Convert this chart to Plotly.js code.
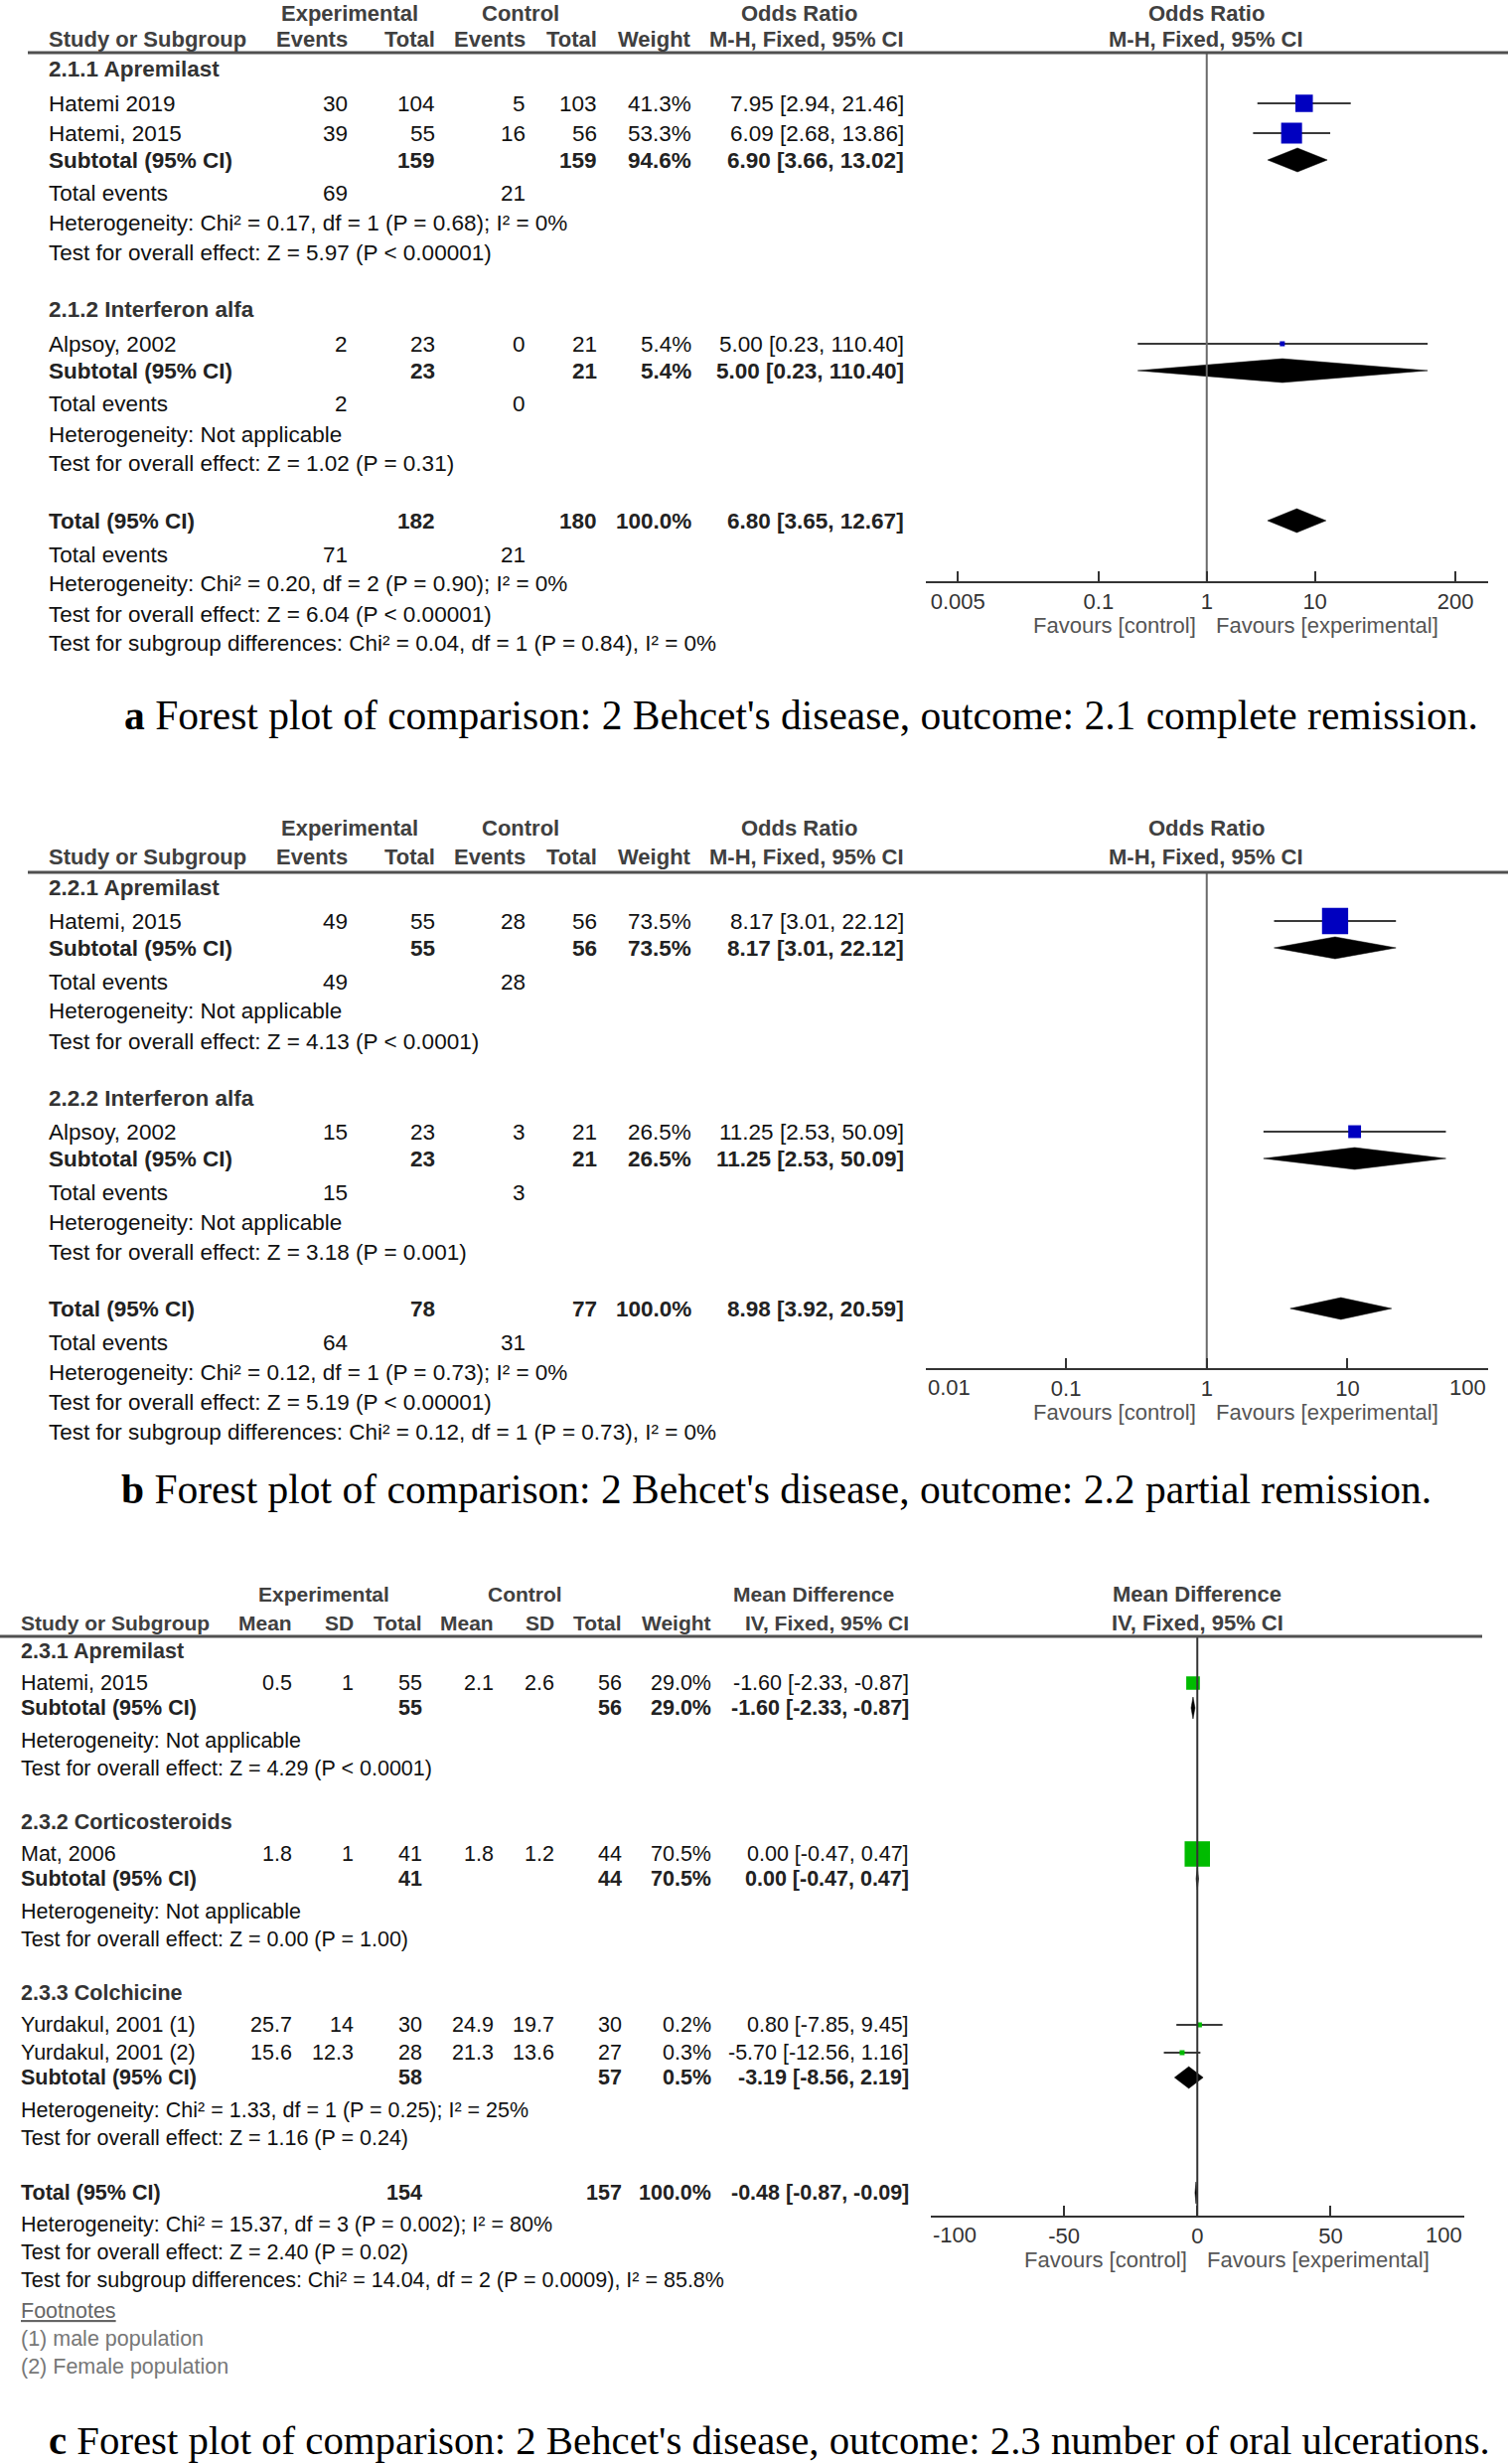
<!DOCTYPE html>
<html>
<head>
<meta charset="utf-8">
<script src="https://cdn.plot.ly/plotly-3.0.1.min.js"></script>
<style>
  body { margin: 0; background: #fff; }
  #fig { width: 1518px; height: 2480px; }
</style>
</head>
<body>
<div id="fig"></div>
<script>
// ---------- a: complete remission (odds ratio) ----------
const aGroups = ['2.1.1 Apremilast', '2.1.2 Interferon alfa'];
const aStudies = ['Hatemi 2019', 'Hatemi, 2015', 'Alpsoy, 2002'];
const aStudyGroup = [0, 0, 1];
const aExpEvents = [30, 39, 2];
const aExpTotal = [104, 55, 23];
const aCtlEvents = [5, 16, 0];
const aCtlTotal = [103, 56, 21];
const aWeight = [41.3, 53.3, 5.4];
const aOR = [7.95, 6.09, 5.00];
const aLow = [2.94, 2.68, 0.23];
const aHigh = [21.46, 13.86, 110.40];
const aSubExpEvents = [69, 2];
const aSubCtlEvents = [21, 0];
const aSubExpTotal = [159, 23];
const aSubCtlTotal = [159, 21];
const aSubWeight = [94.6, 5.4];
const aSubOR = [6.90, 5.00];
const aSubLow = [3.66, 0.23];
const aSubHigh = [13.02, 110.40];
const aSubHet = ['Heterogeneity: Chi² = 0.17, df = 1 (P = 0.68); I² = 0%', 'Heterogeneity: Not applicable'];
const aSubTest = ['Test for overall effect: Z = 5.97 (P < 0.00001)', 'Test for overall effect: Z = 1.02 (P = 0.31)'];
const aTotTotals = [182, 180];
const aTotEvents = [71, 21];
const aTotWeight = 100.0;
const aTotOR = [6.80, 3.65, 12.67];
const aTotNotes = ['Heterogeneity: Chi² = 0.20, df = 2 (P = 0.90); I² = 0%',
  'Test for overall effect: Z = 6.04 (P < 0.00001)',
  'Test for subgroup differences: Chi² = 0.04, df = 1 (P = 0.84), I² = 0%'];
const aTicks = [0.005, 0.1, 1, 10, 200];
const aTickText = ['0.005', '0.1', '1', '10', '200'];

// ---------- b: partial remission (odds ratio) ----------
const bGroups = ['2.2.1 Apremilast', '2.2.2 Interferon alfa'];
const bStudies = ['Hatemi, 2015', 'Alpsoy, 2002'];
const bStudyGroup = [0, 1];
const bExpEvents = [49, 15];
const bExpTotal = [55, 23];
const bCtlEvents = [28, 3];
const bCtlTotal = [56, 21];
const bWeight = [73.5, 26.5];
const bOR = [8.17, 11.25];
const bLow = [3.01, 2.53];
const bHigh = [22.12, 50.09];
const bSubExpEvents = [49, 15];
const bSubCtlEvents = [28, 3];
const bSubExpTotal = [55, 23];
const bSubCtlTotal = [56, 21];
const bSubWeight = [73.5, 26.5];
const bSubOR = [8.17, 11.25];
const bSubLow = [3.01, 2.53];
const bSubHigh = [22.12, 50.09];
const bSubHet = ['Heterogeneity: Not applicable', 'Heterogeneity: Not applicable'];
const bSubTest = ['Test for overall effect: Z = 4.13 (P < 0.0001)', 'Test for overall effect: Z = 3.18 (P = 0.001)'];
const bTotTotals = [78, 77];
const bTotEvents = [64, 31];
const bTotWeight = 100.0;
const bTotOR = [8.98, 3.92, 20.59];
const bTotNotes = ['Heterogeneity: Chi² = 0.12, df = 1 (P = 0.73); I² = 0%',
  'Test for overall effect: Z = 5.19 (P < 0.00001)',
  'Test for subgroup differences: Chi² = 0.12, df = 1 (P = 0.73), I² = 0%'];
const bTicks = [0.01, 0.1, 1, 10, 100];
const bTickText = ['0.01', '0.1', '1', '10', '100'];

// ---------- c: number of oral ulcerations (mean difference) ----------
const cGroups = ['2.3.1 Apremilast', '2.3.2 Corticosteroids', '2.3.3 Colchicine'];
const cStudies = ['Hatemi, 2015', 'Mat, 2006', 'Yurdakul, 2001 (1)', 'Yurdakul, 2001 (2)'];
const cStudyGroup = [0, 1, 2, 2];
const cExpMean = [0.5, 1.8, 25.7, 15.6];
const cExpSD = [1, 1, 14, 12.3];
const cExpTotal = [55, 41, 30, 28];
const cCtlMean = [2.1, 1.8, 24.9, 21.3];
const cCtlSD = [2.6, 1.2, 19.7, 13.6];
const cCtlTotal = [56, 44, 30, 27];
const cWeight = [29.0, 70.5, 0.2, 0.3];
const cMD = [-1.60, 0.00, 0.80, -5.70];
const cLow = [-2.33, -0.47, -7.85, -12.56];
const cHigh = [-0.87, 0.47, 9.45, 1.16];
const cSubExpTotal = [55, 41, 58];
const cSubCtlTotal = [56, 44, 57];
const cSubWeight = [29.0, 70.5, 0.5];
const cSubMD = [-1.60, 0.00, -3.19];
const cSubLow = [-2.33, -0.47, -8.56];
const cSubHigh = [-0.87, 0.47, 2.19];
const cSubHet = ['Heterogeneity: Not applicable', 'Heterogeneity: Not applicable',
  'Heterogeneity: Chi² = 1.33, df = 1 (P = 0.25); I² = 25%'];
const cSubTest = ['Test for overall effect: Z = 4.29 (P < 0.0001)', 'Test for overall effect: Z = 0.00 (P = 1.00)',
  'Test for overall effect: Z = 1.16 (P = 0.24)'];
const cTotTotals = [154, 157];
const cTotWeight = 100.0;
const cTotMD = [-0.48, -0.87, -0.09];
const cTotNotes = ['Heterogeneity: Chi² = 15.37, df = 3 (P = 0.002); I² = 80%',
  'Test for overall effect: Z = 2.40 (P = 0.02)',
  'Test for subgroup differences: Chi² = 14.04, df = 2 (P = 0.0009), I² = 85.8%'];
const cFootnotes = ['(1) male population', '(2) Female population'];
const cTicks = [-100, -50, 0, 50, 100];
const cTickText = ['-100', '-50', '0', '50', '100'];

const captions = [
  "<b>a</b> Forest plot of comparison: 2 Behcet's disease, outcome: 2.1 complete remission.",
  "<b>b</b> Forest plot of comparison: 2 Behcet's disease, outcome: 2.2 partial remission.",
  "<b>c</b> Forest plot of comparison: 2 Behcet's disease, outcome: 2.3 number of oral ulcerations."
];

// ---------- drawing ----------
const W = 1518, H = 2480;
const SANS = 'Liberation Sans, Arial, sans-serif';
const SERIF = 'Liberation Serif, Times New Roman, serif';
const ann = [], shapes = [], traces = [];
const px = x => x / W;
const py = y => 1 - y / H;
const f2 = v => v.toFixed(2);
const ci = (e, l, h) => f2(e) + ' [' + f2(l) + ', ' + f2(h) + ']';
const pct = w => w.toFixed(1) + '%';
const sqSize = w => Math.max(5, 1.3 * Math.pow(w, 0.7));

function txt(x, y, s, o = {}) {
  ann.push({
    xref: 'paper', yref: 'paper', x: px(x), y: py(y), text: String(s),
    showarrow: false, xanchor: o.anchor || 'left', yanchor: 'middle',
    font: { family: o.family || SANS, size: o.size || 22.5, color: o.color || '#111' }
  });
}
const bold = s => '<b>' + s + '</b>';

function rule(x0, x1, y) {
  shapes.push({ type: 'line', xref: 'paper', yref: 'paper', x0: px(x0), x1: px(x1),
    y0: py(y), y1: py(y), line: { color: '#505050', width: 3 } });
}

function diamond(xa, ya, e, l, h, y, hh) {
  traces.push({ type: 'scatter', mode: 'lines', xaxis: xa, yaxis: ya,
    x: [l, e, h, e, l], y: [y, y - hh, y, y + hh, y], fill: 'toself',
    fillcolor: '#000', line: { color: '#000', width: 0.5 }, hoverinfo: 'skip' });
}

function studyMark(xa, ya, e, l, h, y, w, color) {
  traces.push({ type: 'scatter', mode: 'lines', xaxis: xa, yaxis: ya,
    x: [l, h], y: [y, y], line: { color: '#3a3a3a', width: 2 }, hoverinfo: 'skip' });
  traces.push({ type: 'scatter', mode: 'markers', xaxis: xa, yaxis: ya,
    x: [e], y: [y], marker: { symbol: 'square', size: sqSize(w), color: color,
    line: { width: 0 } }, hoverinfo: 'skip' });
}

// odds ratio panel (a and b share the same layout)
function orPanel(d, L) {
  const C = { ee: 352, et: 440, ce: 531, ct: 603, w: 698, ci: 912, left: 47, mid: 1214 };
  const hc = '#404040', hs = 22;
  txt(C.ee, L.head1, bold('Experimental'), { anchor: 'center', color: hc, size: hs });
  txt(C.ce - 7, L.head1, bold('Control'), { anchor: 'center', color: hc, size: hs });
  txt(804, L.head1, bold('Odds Ratio'), { anchor: 'center', color: hc, size: hs });
  txt(C.mid, L.head1, bold('Odds Ratio'), { anchor: 'center', color: hc, size: hs });
  txt(C.left, L.head2, bold('Study or Subgroup'), { color: hc, size: hs });
  txt(C.ee, L.head2, bold('Events'), { anchor: 'right', color: hc, size: hs });
  txt(C.et, L.head2, bold('Total'), { anchor: 'right', color: hc, size: hs });
  txt(C.ce, L.head2, bold('Events'), { anchor: 'right', color: hc, size: hs });
  txt(C.ct, L.head2, bold('Total'), { anchor: 'right', color: hc, size: hs });
  txt(C.w, L.head2, bold('Weight'), { anchor: 'right', color: hc, size: hs });
  txt(C.ci, L.head2, bold('M-H, Fixed, 95% CI'), { anchor: 'right', color: hc, size: hs });
  txt(C.mid, L.head2, bold('M-H, Fixed, 95% CI'), { anchor: 'center', color: hc, size: hs });
  rule(28, W, L.rule);

  let y = L.first;
  d.groups.forEach((g, gi) => {
    if (gi > 0) y += 57;
    txt(C.left, y, bold(g), { color: '#333' });
    const idx = d.studyGroup.map((sg, i) => sg === gi ? i : -1).filter(i => i >= 0);
    idx.forEach((i, k) => {
      y += k === 0 ? 34 : 30;
      txt(C.left, y, d.studies[i]);
      txt(C.ee, y, d.expEv[i], { anchor: 'right' });
      txt(C.et, y, d.expTot[i], { anchor: 'right' });
      txt(C.ce, y, d.ctlEv[i], { anchor: 'right' });
      txt(C.ct, y, d.ctlTot[i], { anchor: 'right' });
      txt(C.w, y, pct(d.weight[i]), { anchor: 'right' });
      txt(C.ci, y, ci(d.or[i], d.low[i], d.high[i]), { anchor: 'right' });
      studyMark(L.xa, L.ya, d.or[i], d.low[i], d.high[i], y, d.weight[i], '#0000c0');
    });
    y += 27;
    txt(C.left, y, bold('Subtotal (95% CI)'), { color: '#222' });
    txt(C.et, y, bold(d.subExpTot[gi]), { anchor: 'right', color: '#222' });
    txt(C.ct, y, bold(d.subCtlTot[gi]), { anchor: 'right', color: '#222' });
    txt(C.w, y, bold(pct(d.subWeight[gi])), { anchor: 'right', color: '#222' });
    txt(C.ci, y, bold(ci(d.subOR[gi], d.subLow[gi], d.subHigh[gi])), { anchor: 'right', color: '#222' });
    diamond(L.xa, L.ya, d.subOR[gi], d.subLow[gi], d.subHigh[gi], y, L.dh);
    y += 34;
    txt(C.left, y, 'Total events');
    txt(C.ee, y, d.subExpEv[gi], { anchor: 'right' });
    txt(C.ce, y, d.subCtlEv[gi], { anchor: 'right' });
    y += 30; txt(C.left, y, d.subHet[gi]);
    y += 30; txt(C.left, y, d.subTest[gi]);
  });
  y += 57;
  txt(C.left, y, bold('Total (95% CI)'), { color: '#222' });
  txt(C.et, y, bold(d.totTotals[0]), { anchor: 'right', color: '#222' });
  txt(C.ct, y, bold(d.totTotals[1]), { anchor: 'right', color: '#222' });
  txt(C.w, y, bold(pct(d.totWeight)), { anchor: 'right', color: '#222' });
  txt(C.ci, y, bold(ci(d.totOR[0], d.totOR[1], d.totOR[2])), { anchor: 'right', color: '#222' });
  diamond(L.xa, L.ya, d.totOR[0], d.totOR[1], d.totOR[2], y, L.dh);
  y += 34;
  txt(C.left, y, 'Total events');
  txt(C.ee, y, d.totEvents[0], { anchor: 'right' });
  txt(C.ce, y, d.totEvents[1], { anchor: 'right' });
  d.totNotes.forEach(n => { y += 30; txt(C.left, y, n); });

  // null line and favours labels
  traces.push({ type: 'scatter', mode: 'lines', xaxis: L.xa, yaxis: L.ya, x: [1, 1],
    y: [L.rule, L.axis], line: { color: '#6a6a6a', width: 2 }, hoverinfo: 'skip' });
  txt(C.mid - 8, L.axis + 44, 'Favours [control]', { anchor: 'right', color: '#555', size: 22 });
  txt(C.mid + 8, L.axis + 44, 'Favours [experimental]', { color: '#555', size: 22 });
}

orPanel({
  groups: aGroups, studies: aStudies, studyGroup: aStudyGroup, expEv: aExpEvents, expTot: aExpTotal,
  ctlEv: aCtlEvents, ctlTot: aCtlTotal, weight: aWeight, or: aOR, low: aLow, high: aHigh,
  subExpEv: aSubExpEvents, subCtlEv: aSubCtlEvents, subExpTot: aSubExpTotal, subCtlTot: aSubCtlTotal,
  subWeight: aSubWeight, subOR: aSubOR, subLow: aSubLow, subHigh: aSubHigh, subHet: aSubHet,
  subTest: aSubTest, totTotals: aTotTotals, totEvents: aTotEvents, totWeight: aTotWeight,
  totOR: aTotOR, totNotes: aTotNotes
}, { head1: 13, head2: 40, rule: 53, first: 70, axis: 585, xa: 'x', ya: 'y', dh: 12 });

orPanel({
  groups: bGroups, studies: bStudies, studyGroup: bStudyGroup, expEv: bExpEvents, expTot: bExpTotal,
  ctlEv: bCtlEvents, ctlTot: bCtlTotal, weight: bWeight, or: bOR, low: bLow, high: bHigh,
  subExpEv: bSubExpEvents, subCtlEv: bSubCtlEvents, subExpTot: bSubExpTotal, subCtlTot: bSubCtlTotal,
  subWeight: bSubWeight, subOR: bSubOR, subLow: bSubLow, subHigh: bSubHigh, subHet: bSubHet,
  subTest: bSubTest, totTotals: bTotTotals, totEvents: bTotEvents, totWeight: bTotWeight,
  totOR: bTotOR, totNotes: bTotNotes
}, { head1: 833, head2: 863, rule: 878, first: 893, axis: 1377, xa: 'x2', ya: 'y2', dh: 11 });

// mean difference panel
(function () {
  const C = { m1: 296, s1: 358, t1: 427, m2: 499, s2: 560, t2: 628, w: 718, ci: 917, left: 19, mid: 1205 };
  const hc = '#404040', fs = 21.5, hs = 21;
  const L = { head1: 1604, head2: 1633, rule: 1647, first: 1662, axis: 2230, xa: 'x3', ya: 'y3' };
  const T = (x, y, s, o = {}) => txt(x, y, s, Object.assign({ size: fs }, o));
  T(326, L.head1, bold('Experimental'), { anchor: 'center', color: hc, size: hs });
  T(528, L.head1, bold('Control'), { anchor: 'center', color: hc, size: hs });
  T(819, L.head1, bold('Mean Difference'), { anchor: 'center', color: hc, size: hs });
  T(C.mid, L.head1, bold('Mean Difference'), { anchor: 'center', color: hc, size: 22 });
  T(C.left, L.head2, bold('Study or Subgroup'), { color: hc, size: hs });
  [['Mean', C.m1], ['SD', C.s1], ['Total', C.t1], ['Mean', C.m2], ['SD', C.s2], ['Total', C.t2],
   ['Weight', C.w], ['IV, Fixed, 95% CI', C.ci]].forEach(h => T(h[1], L.head2, bold(h[0]), { anchor: 'right', color: hc, size: hs }));
  T(C.mid, L.head2, bold('IV, Fixed, 95% CI'), { anchor: 'center', color: hc, size: 22 });
  rule(0, 1492, L.rule);

  let y = L.first;
  cGroups.forEach((g, gi) => {
    if (gi > 0) y += 54;
    T(C.left, y, bold(g), { color: '#333' });
    const idx = cStudyGroup.map((sg, i) => sg === gi ? i : -1).filter(i => i >= 0);
    idx.forEach((i, k) => {
      y += k === 0 ? 32 : 28;
      T(C.left, y, cStudies[i]);
      T(C.m1, y, cExpMean[i], { anchor: 'right' });
      T(C.s1, y, cExpSD[i], { anchor: 'right' });
      T(C.t1, y, cExpTotal[i], { anchor: 'right' });
      T(C.m2, y, cCtlMean[i], { anchor: 'right' });
      T(C.s2, y, cCtlSD[i], { anchor: 'right' });
      T(C.t2, y, cCtlTotal[i], { anchor: 'right' });
      T(C.w, y, pct(cWeight[i]), { anchor: 'right' });
      T(C.ci, y, ci(cMD[i], cLow[i], cHigh[i]), { anchor: 'right' });
      studyMark(L.xa, L.ya, cMD[i], cLow[i], cHigh[i], y, cWeight[i], '#00bb00');
    });
    y += 25;
    T(C.left, y, bold('Subtotal (95% CI)'), { color: '#222' });
    T(C.t1, y, bold(cSubExpTotal[gi]), { anchor: 'right', color: '#222' });
    T(C.t2, y, bold(cSubCtlTotal[gi]), { anchor: 'right', color: '#222' });
    T(C.w, y, bold(pct(cSubWeight[gi])), { anchor: 'right', color: '#222' });
    T(C.ci, y, bold(ci(cSubMD[gi], cSubLow[gi], cSubHigh[gi])), { anchor: 'right', color: '#222' });
    diamond(L.xa, L.ya, cSubMD[gi], cSubLow[gi], cSubHigh[gi], y, 11);
    y += 33; T(C.left, y, cSubHet[gi]);
    y += 28; T(C.left, y, cSubTest[gi]);
  });
  y += 55;
  T(C.left, y, bold('Total (95% CI)'), { color: '#222' });
  T(C.t1, y, bold(cTotTotals[0]), { anchor: 'right', color: '#222' });
  T(C.t2, y, bold(cTotTotals[1]), { anchor: 'right', color: '#222' });
  T(C.w, y, bold(pct(cTotWeight)), { anchor: 'right', color: '#222' });
  T(C.ci, y, bold(ci(cTotMD[0], cTotMD[1], cTotMD[2])), { anchor: 'right', color: '#222' });
  diamond(L.xa, L.ya, cTotMD[0], cTotMD[1], cTotMD[2], y, 11);
  y += 32; T(C.left, y, cTotNotes[0]);
  y += 28; T(C.left, y, cTotNotes[1]);
  y += 28; T(C.left, y, cTotNotes[2]);
  y += 31; T(C.left, y, '<u>Footnotes</u>', { color: '#666' });
  cFootnotes.forEach(f => { y += 28; T(C.left, y, f, { color: '#777' }); });

  traces.push({ type: 'scatter', mode: 'lines', xaxis: L.xa, yaxis: L.ya, x: [0, 0],
    y: [L.rule, L.axis], line: { color: '#333', width: 2 }, hoverinfo: 'skip' });
  txt(C.mid - 8, L.axis + 44, 'Favours [control]', { anchor: 'right', color: '#555', size: 22 });
  txt(C.mid + 8, L.axis + 44, 'Favours [experimental]', { color: '#555', size: 22 });
})();

// captions
txt(123, 720, captions[0], { family: SERIF, size: 41.5, color: '#000' });
txt(120, 1499, captions[1], { family: SERIF, size: 41.5, color: '#000' });
txt(47, 2456, captions[2], { family: SERIF, size: 40.8, color: '#000' });

// axes; when the range ends exactly on a tick, RevMan keeps the end labels inside
// the axis, so those two are placed at their tick values aligned inward
const TICKFONT = { family: SANS, size: 22, color: '#333' };
function xAxis(name, dom, type, range, vals, text, anchor, axisY, inset) {
  const labels = text.slice();
  if (inset) {
    const last = labels.length - 1;
    [[0, 'left'], [last, 'right']].forEach(([i, side]) => {
      ann.push({ xref: name, yref: 'paper', x: type === 'log' ? Math.log10(vals[i]) : vals[i],
        y: py(axisY + 19), text: labels[i], showarrow: false, xanchor: side, yanchor: 'middle',
        font: TICKFONT });
      labels[i] = '';
    });
  }
  return {
    domain: dom, type: type, range: range, anchor: anchor, showgrid: false, zeroline: false,
    showline: true, linecolor: '#333', linewidth: 2, ticks: 'inside', ticklen: 10, tickwidth: 2,
    tickcolor: '#333', tickmode: 'array', tickvals: vals, ticktext: labels,
    tickfont: TICKFONT, fixedrange: true
  };
}
function yAxis(top, bottom) {
  return { domain: [py(bottom), py(top)], range: [bottom, top], visible: false, fixedrange: true };
}

const layout = {
  width: W, height: H, margin: { l: 0, r: 0, t: 0, b: 0 },
  paper_bgcolor: '#fff', plot_bgcolor: 'rgba(0,0,0,0)', showlegend: false, hovermode: false,
  xaxis: xAxis('x', [px(931.5), px(1498)], 'log', [Math.log10(0.0025), Math.log10(400)], aTicks, aTickText, 'y', 585, false),
  yaxis: yAxis(53, 585),
  xaxis2: xAxis('x2', [px(931.5), px(1498)], 'log', [-2, 2], bTicks, bTickText, 'y2', 1377, true),
  yaxis2: yAxis(878, 1377),
  xaxis3: xAxis('x3', [px(937), px(1473.5)], 'linear', [-100, 100], cTicks, cTickText, 'y3', 2230, true),
  yaxis3: yAxis(1647, 2230),
  annotations: ann, shapes: shapes
};

Plotly.newPlot('fig', traces, layout, { staticPlot: true, displayModeBar: false });
</script>
</body>
</html>
